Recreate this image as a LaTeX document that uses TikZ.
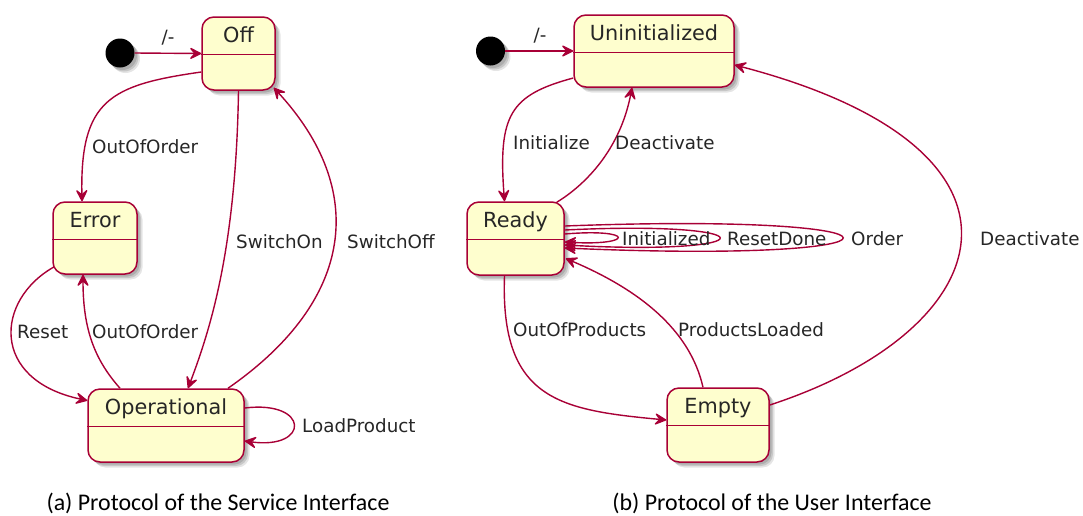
\documentclass[tikz,border=0pt]{standalone}
\usepackage{fontspec}
\setmainfont{DejaVu Sans}
\newfontfamily\capfont{Carlito}
\usetikzlibrary{arrows.meta,shadows,calc}
\definecolor{stateborder}{HTML}{A80036}
\definecolor{statefill}{HTML}{FEFECE}

\tikzset{
  x=1pt, y=-1pt,
  shade/.style={
    drop shadow={shadow xshift=2.5pt, shadow yshift=-2.5pt, opacity=0.13, fill=black},
    drop shadow={shadow xshift=4pt, shadow yshift=-4pt, opacity=0.13, fill=black},
    drop shadow={shadow xshift=5.5pt, shadow yshift=-5.5pt, opacity=0.1, fill=black}},
  statebox/.style={shape=rectangle, rounded corners=12pt, draw=stateborder, fill=statefill,
    line width=1.5pt, inner sep=0pt, shade},
  sepline/.style={draw=stateborder, line width=1.5pt},
  statename/.style={font=\fontsize{20.8}{24}\selectfont, text=black!85, inner sep=0pt,
    text height=15.2pt, text depth=0pt},
  initial/.style={circle, fill=black, minimum size=29pt, inner sep=0pt, shade},
  trans/.style={draw=stateborder, line width=1.4pt,
    -{Stealth[length=14pt, width=14pt, inset=6pt, round]}},
  lbl/.style={font=\fontsize{18.3}{22}\selectfont, text=black!85, inner sep=0pt,
    text height=13.4pt, text depth=0pt, anchor=west},
  caption/.style={font=\capfont\fontsize{23.9}{28}\selectfont, inner sep=0pt}
}

% a state: rounded box with a title compartment
\newcommand\umlstate[6]{%
  \node[statebox, minimum width=#4pt, minimum height=#5pt] (#1) at (#2,#3) {};
  \draw[sepline] ([yshift=-38pt]#1.north west) -- ([yshift=-38pt]#1.north east);
  \node[statename] (#1-title) at ([yshift=-19pt]#1.north) {#6};
}

\begin{document}
\begin{tikzpicture}
\useasboundingbox (0,0) rectangle (1083,515);

% ---------- service interface ----------
\node[initial] (init1) at (120,53) {};
\umlstate{off}{238.5}{53.5}{73}{73}{Off}
\umlstate{err}{95}{238}{84}{72}{Error}
\umlstate{oper}{166}{425.5}{156}{73}{Operational}

\draw[trans] (init1.east) -- (off.west);
\node[lbl, anchor=center] (l1) at (168,37) {/-};

\draw[trans] ($(off.west)+(0,18.5)$) .. controls (110,85) and (80,100) .. ($(err.north)+(-13,0)$);
\node[lbl] (l2) at (92,147) {OutOfOrder};

\draw[trans] (off.south) .. controls (236,250) and (210,330) .. ($(oper.north)+(22,0)$);
\node[lbl] (l3) at (236,242) {SwitchOn};

\draw[trans] ($(oper.north)+(62,0)$) .. controls (355,300) and (368,190) .. ($(off.south east)+(-2,-3)$);
\node[lbl] (l4) at (347,242) {SwitchOff};

\draw[trans] ($(err.south west)+(2,-8)$) .. controls (-5,300) and (-10,380) .. ($(oper.west)+(0,-25)$);
\node[lbl] (l5) at (17,332) {Reset};

\draw[trans] ($(oper.north)+(-46,0)$) .. controls (95,360) and (83,330) .. ($(err.south)+(-12,0)$);
\node[lbl] (l6) at (92,332) {OutOfOrder};

\draw[trans] ($(oper.east)+(0,-17.5)$) .. controls (310,400) and (310,450) .. ($(oper.east)+(0,15.5)$);
\node[lbl] (l7) at (302,426) {LoadProduct};

% ---------- user interface ----------
\node[initial] (init2) at (490.5,51) {};
\umlstate{uninit}{654}{51}{160}{72}{Uninitialized}
\umlstate{ready}{515.5}{238.5}{97}{73}{Ready}
\umlstate{empty}{718}{425}{102}{74}{Empty}

\draw[trans] (init2.east) -- (uninit.west);
\node[lbl, anchor=center] (r1) at (540,35) {/-};

\draw[trans] ($(uninit.west)+(0,27)$) .. controls (510,95) and (498,115) .. ($(ready.north)+(-11,0)$);
\node[lbl] (r2) at (513,143) {Initialize};

\draw[trans] ($(ready.north east)+(-8,1)$) .. controls (585,185) and (620,150) .. ($(uninit.south)+(-22,0)$);
\node[lbl] (r3) at (615,143) {Deactivate};

\draw[trans] ($(ready.east)+(0,-4.5)$) .. controls (635,228) and (635,246) .. ($(ready.east)+(0,3.5)$);
\draw[trans] ($(ready.east)+(0,-8.5)$) .. controls (771,220) and (771,256) .. ($(ready.east)+(0,6.5)$);
\draw[trans] ($(ready.east)+(0,-12.5)$) .. controls (935,212) and (935,264) .. ($(ready.east)+(0,9.5)$);
\node[lbl] (r4) at (622,239) {Initialized};
\node[lbl] (r5) at (727,239) {ResetDone};
\node[lbl] (r6) at (851,239) {Order};

\draw[trans] ($(ready.south)+(-11,0)$) .. controls (500,400) and (560,410) .. ($(empty.west)+(0,-5)$);
\node[lbl] (r7) at (513,330) {OutOfProducts};

\draw[trans] ($(empty.north)+(-15,0)$) .. controls (690,330) and (640,290) .. ($(ready.east)+(1,20)$);
\node[lbl] (r8) at (678,330) {ProductsLoaded};

\draw[trans] ($(empty.east)+(0,-20)$) .. controls (1000,330) and (1060,150) .. ($(uninit.east)+(0,14)$);
\node[lbl] (r9) at (980,239) {Deactivate};

% ---------- captions ----------
\node[caption] (capa) at (218,503) {(a) Protocol of the Service Interface};
\node[caption] (capb) at (772,503) {(b) Protocol of the User Interface};
\end{tikzpicture}
\end{document}
